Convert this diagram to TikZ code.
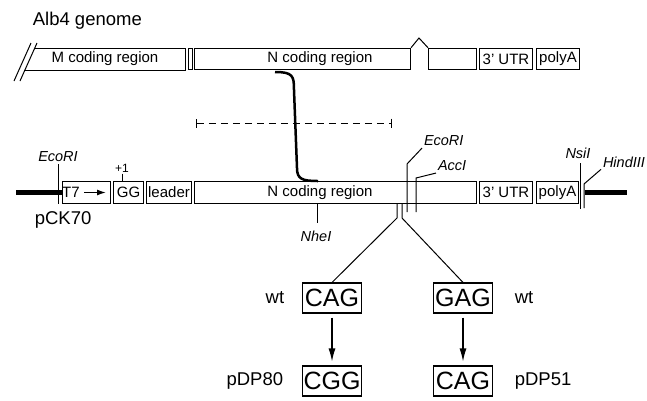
\documentclass[tikz,border=0pt]{standalone}
\usepackage{fontspec}
\setmainfont{Liberation Sans}
\usetikzlibrary{arrows.meta}

\newcommand{\segfont}{\fontsize{15}{18}\selectfont}
\newcommand{\sitefont}{\fontsize{14.5}{17}\selectfont\itshape}
\newcommand{\lblfont}{\fontsize{18.5}{22}\selectfont}
\newcommand{\codonfont}{\fontsize{25}{28}\selectfont}
\newcommand{\tinyfont}{\fontsize{12}{14}\selectfont}

\begin{document}
\begin{tikzpicture}[x=1pt, y=-1pt, line width=1pt,
    seg/.style={draw, minimum height=21.5pt, inner sep=0pt, anchor=west, font=\segfont},
    site/.style={font=\sitefont, inner sep=1.5pt},
    lbl/.style={font=\lblfont},
    codon/.style={draw, line width=1.1pt, minimum width=59pt, minimum height=30pt, inner sep=0pt, font=\codonfont},
    mut/.style={-{Latex[length=13pt,width=7pt]}, line width=1.2pt, shorten <=4pt, shorten >=4pt}]
    \useasboundingbox (0,0) rectangle (647,400);

    \node[lbl, anchor=west] (title) at (29,21) {Alb4 genome};
    \draw (14,81) -- (31,43);
    \draw (20,81) -- (37,43);
    \draw (35,48) -- (185,48) -- (185,70) -- (24,70);
    \node[font=\segfont] (mtxt) at (105,59) {M coding region};
    \node[seg, minimum width=4pt] (gap) at (188,59) {};
    \node[seg, minimum width=216pt] (ntop) at (194,59) {};
    \node[font=\segfont] (ntoptxt) at (320,59) {N coding region};
    \node[seg, minimum width=48pt] (exon) at (428,59) {};
    \draw (ntop.north east) -- (419,38) -- (exon.north west);
    \node[seg, minimum width=53pt] (utrtop) at (479,59) {3' UTR};
    \node[seg, minimum width=43pt] (polyatop) at (536,59) {polyA};

    \coordinate (bktop) at (275,72);
    \coordinate (bkbot) at (318,181);
    \draw[line width=2.5pt] (bktop) .. controls (293,72) and (294,76) .. (294,90) -- (297,168) .. controls (297,179) and (302,181) .. (bkbot);

    \coordinate (dl) at (196,123);
    \coordinate (dr) at (392,123);
    \draw[dash pattern=on 7pt off 5pt, {Bar[width=9pt]}-{Bar[width=9pt]}] (dl) -- (dr);

    \node[seg, minimum width=48pt] (t7) at (62,192.5) {};
    \node[font=\segfont, inner sep=1pt] (t7txt) at (71,192.5) {T7};
    \coordinate (t7tip) at (106,192.5);
    \draw[-{Latex[length=9pt,width=6pt]}, line width=1.3pt] (t7txt.east) ++(3,0) -- (t7tip);
    \node[seg, minimum width=30pt] (gg) at (113,192.5) {GG};
    \node[seg, minimum width=45pt] (leader) at (146,192.5) {leader};
    \node[seg, minimum width=282pt] (nlow) at (194,192.5) {};
    \node[font=\segfont] (nlowtxt) at (320,192.5) {N coding region};
    \node[seg, minimum width=53pt] (utrlow) at (479,192.5) {3' UTR};
    \node[seg, minimum width=42pt] (polyalow) at (536,192.5) {polyA};

    \coordinate (vecL) at (16,192.5);
    \draw[line width=5pt] (vecL) -- (t7.west);
    \coordinate (vecRa) at (585,192.5);
    \coordinate (vecRb) at (627,192.5);
    \draw[line width=5pt] (vecRa) -- (vecRb);

    \node[site] (ecoa) at (58,157) {EcoRI};
    \coordinate (ecoaend) at (58,204);
    \draw (ecoa.south) -- (ecoaend);
    \node[font=\tinyfont, inner sep=1pt] (plusone) at (122,168) {+1};
    \draw (plusone.south) -- (plusone.south |- gg.north);

    \node[site, anchor=west] (ecob) at (422,141) {EcoRI};
    \coordinate (ecobk) at (407,164);
    \coordinate (ecobend) at (407,212);
    \draw (ecob.south west) -- (ecobk) -- (ecobend);
    \node[site, anchor=west] (acc) at (436,166) {AccI};
    \coordinate (acck) at (416,178);
    \coordinate (accend) at (416,212);
    \draw (acc.south west) -- (acck) -- (accend);

    \node[site] (nsi) at (578,153) {NsiI};
    \coordinate (nsitop) at (580,163);
    \coordinate (nsibot) at (580,209);
    \draw (nsitop) -- (nsibot);
    \node[site, anchor=west] (hind) at (601,162) {HindIII};
    \coordinate (hindk) at (584,184);
    \coordinate (hindend) at (584,208);
    \draw (hind.south west) -- (hindk) -- (hindend);

    \coordinate (nhetop) at (317,203);
    \coordinate (nhebot) at (317,223);
    \draw (nhetop) -- (nhebot);
    \node[site] (nhe) at (316,236) {NheI};

    \node[lbl, anchor=west] (pck) at (31,220) {pCK70};

    \node[codon] (cag) at (332,298) {CAG};
    \node[codon] (gag) at (463,298) {GAG};
    \node[codon] (cgg) at (332,381) {CGG};
    \node[codon] (cagm) at (463,381) {CAG};
    \coordinate (splitL) at (397,203);
    \coordinate (splitR) at (402,203);
    \draw (splitL) -- ++(0,15) -- (cag.north);
    \draw (splitR) -- ++(0,15) -- (gag.north);
    \draw[mut] (cag) -- (cgg);
    \draw[mut] (gag) -- (cagm);

    \node[lbl, anchor=east] (wta) at (288,298) {wt};
    \node[lbl, anchor=west] (wtb) at (511,298) {wt};
    \node[lbl, anchor=east] (pdpa) at (287,381) {pDP80};
    \node[lbl, anchor=west] (pdpb) at (511,381) {pDP51};
\end{tikzpicture}
\end{document}
